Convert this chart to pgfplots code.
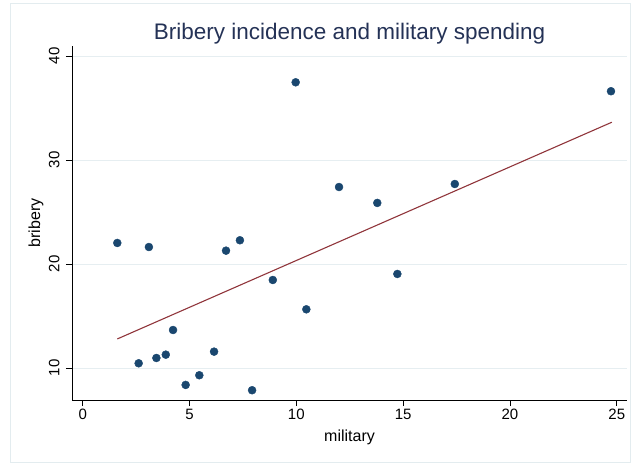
\documentclass[border=0pt]{standalone}
\usepackage{fontspec}
\setmainfont{Liberation Sans}
\usepackage{pgfplots}
\pgfplotsset{compat=1.18}
\definecolor{navy}{HTML}{1A476F}
\definecolor{maroon}{HTML}{90353B}
\definecolor{titlec}{HTML}{243256}
\definecolor{gridc}{HTML}{E6EEF1}
\definecolor{framec}{HTML}{E3ECEF}
\begin{document}
\begin{tikzpicture}
\useasboundingbox (0,0) rectangle (632bp,464bp);
\draw[framec, line width=0.8bp] (10bp,2bp) rectangle (630bp,461bp);
\begin{axis}[
  at={(72bp,64bp)}, anchor=south west,
  scale only axis, width=555bp, height=354bp,
  xmin=-0.5, xmax=25.48, ymin=6.92, ymax=40.96,
  axis x line*=bottom, axis y line*=left,
  axis line style={-, black, line width=0.8bp},
  xtick={0,5,10,15,20,25}, ytick={10,20,30,40},
  tick align=outside, major tick length=6bp,
  tick style={black, line width=0.8bp},
  ymajorgrids, grid style={gridc, line width=0.8bp},
  /pgf/number format/assume math mode=true,
  ticklabel style={font=\fontsize{15bp}{18bp}\selectfont},
  yticklabel style={rotate=90, anchor=south, yshift=3bp},
  every axis title shift=0pt,
  title={Bribery incidence and military spending},
  title style={at={(axis description cs:0.5,1)}, anchor=base, yshift=6bp, font=\fontsize{22.5bp}{26bp}\selectfont, color=titlec},
  xlabel={military},
  xlabel style={at={(axis description cs:0.5,0)}, anchor=base, yshift=-41bp, font=\fontsize{16bp}{19bp}\selectfont},
  ylabel={bribery},
  ylabel style={at={(axis description cs:0,0.5)}, anchor=base, yshift=32bp, font=\fontsize{16bp}{19bp}\selectfont},
]
\addplot[only marks, mark=*, mark size=4bp, mark options={draw=navy, fill=navy}] coordinates {
(1.62,22.02) (3.10,21.63) (2.62,10.45) (3.45,10.96) (3.89,11.28)
(4.23,13.65) (4.82,8.37) (5.46,9.30) (6.15,11.57) (6.71,21.28)
(7.36,22.28) (7.93,7.86) (8.90,18.46) (9.97,37.47) (10.47,15.64)
(12.00,27.40) (13.79,25.87) (14.73,19.04) (17.42,27.69) (24.73,36.61)
};
\addplot[maroon, line width=1.1bp, no marks] coordinates {(1.62,12.79) (24.77,33.63)};
\end{axis}
\end{tikzpicture}
\end{document}
